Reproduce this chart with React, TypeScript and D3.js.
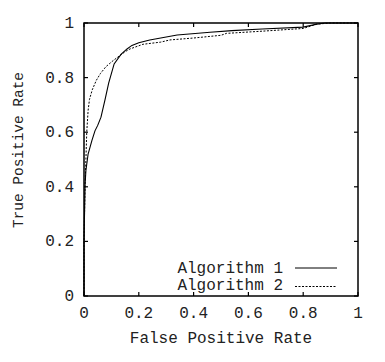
import * as d3 from 'd3';

// ROC points
const alg1Fpr = [0, 0, 0.004, 0.007, 0.015, 0.029, 0.04, 0.05, 0.062, 0.077, 0.09, 0.11, 0.135, 0.157, 0.175, 0.2, 0.24, 0.28, 0.34, 0.46, 0.54, 0.65, 0.8, 0.85, 0.88, 1];
const alg1Tpr = [0, 0.2, 0.41, 0.46, 0.52, 0.57, 0.605, 0.625, 0.655, 0.72, 0.78, 0.85, 0.885, 0.905, 0.918, 0.928, 0.938, 0.945, 0.956, 0.966, 0.972, 0.978, 0.985, 0.996, 1, 1];
const alg2Fpr = [0, 0, 0.004, 0.007, 0.01, 0.015, 0.02, 0.03, 0.045, 0.06, 0.08, 0.106, 0.13, 0.15, 0.168, 0.215, 0.28, 0.314, 0.4, 0.5, 0.52, 0.65, 0.8, 0.85, 0.9, 1];
const alg2Tpr = [0, 0.2, 0.41, 0.5, 0.6, 0.68, 0.72, 0.755, 0.79, 0.815, 0.84, 0.862, 0.88, 0.895, 0.905, 0.922, 0.93, 0.938, 0.945, 0.955, 0.962, 0.97, 0.98, 0.996, 1, 1];

const tickValues = [0, 0.2, 0.4, 0.6, 0.8, 1];
const tickLabels = ['0', '0.2', '0.4', '0.6', '0.8', '1'];
const seriesNames = ['Algorithm 1', 'Algorithm 2'];

const W = 385;
const H = 362;
const margin = { left: 84, right: 27, top: 23, bottom: 66 };
const FONT = '"Courier New", "Nimbus Mono PS", "Nimbus Mono L", FreeMono, "Liberation Mono", monospace';

const App = () => {
  const x = d3.scaleLinear().domain([0, 1]).range([margin.left, W - margin.right]);
  const y = d3.scaleLinear().domain([0, 1]).range([H - margin.bottom, margin.top]);

  const line = d3.line<[number, number]>()
    .x(d => x(d[0]))
    .y(d => y(d[1]));

  const pts1 = alg1Fpr.map((f, i) => [f, alg1Tpr[i]] as [number, number]);
  const pts2 = alg2Fpr.map((f, i) => [f, alg2Tpr[i]] as [number, number]);

  const x0 = x(0), x1 = x(1), y0 = y(0), y1 = y(1);
  const tl = 4;

  return (
    <div style={{ position: 'absolute', left: 0, top: 0 }}>
      <svg width={W} height={H} style={{ display: 'block', background: '#fff' }}>
        {/* curves */}
        <path d={line(pts1) || ''} fill="none" stroke="#000" strokeWidth={1.1} />
        <path d={line(pts2) || ''} fill="none" stroke="#000" strokeWidth={1} strokeDasharray="2,1.5" />

        {/* mirrored inward ticks */}
        {tickValues.map((v, i) => (
          <g key={'t' + i} stroke="#000" strokeWidth={1.2}>
            <line x1={x(v)} x2={x(v)} y1={y0} y2={y0 - tl} />
            <line x1={x(v)} x2={x(v)} y1={y1} y2={y1 + tl} />
            <line x1={x0} x2={x0 + tl} y1={y(v)} y2={y(v)} />
            <line x1={x1} x2={x1 - tl} y1={y(v)} y2={y(v)} />
          </g>
        ))}

        {/* frame */}
        <rect x={x0} y={y1} width={x1 - x0} height={y0 - y1} fill="none" stroke="#000" strokeWidth={1.5} />

        {/* tick labels */}
        {tickValues.map((v, i) => (
          <text key={'xl' + i} x={x(v)} y={y0 + 22} textAnchor="middle" fontFamily={FONT} fontSize={16} fill="#222">
            {tickLabels[i]}
          </text>
        ))}
        {tickValues.map((v, i) => (
          <text key={'yl' + i} x={x0 - 10} y={y(v) + 5} textAnchor="end" fontFamily={FONT} fontSize={16} fill="#222">
            {tickLabels[i]}
          </text>
        ))}

        {/* axis titles */}
        <text x={(x0 + x1) / 2} y={343} textAnchor="middle" fontFamily={FONT} fontSize={16} fill="#222">
          False Positive Rate
        </text>
        <text
          transform={`translate(23,150) rotate(-90)`}
          textAnchor="middle"
          fontFamily={FONT}
          fontSize={15}
          textLength={156}
          lengthAdjust="spacingAndGlyphs"
          fill="#222"
        >
          True Positive Rate
        </text>

        {/* legend */}
        {seriesNames.map((name, i) => (
          <g key={'lg' + i}>
            <text x={283} y={273 + i * 17} textAnchor="end" fontFamily={FONT} fontSize={16} fill="#222">
              {name}
            </text>
            <line
              x1={295}
              x2={337}
              y1={268 + i * 18.5}
              y2={268 + i * 18.5}
              stroke="#000"
              strokeWidth={1}
              strokeDasharray={i === 1 ? '2,1.5' : undefined}
            />
          </g>
        ))}
      </svg>
    </div>
  );
};

export default App;
